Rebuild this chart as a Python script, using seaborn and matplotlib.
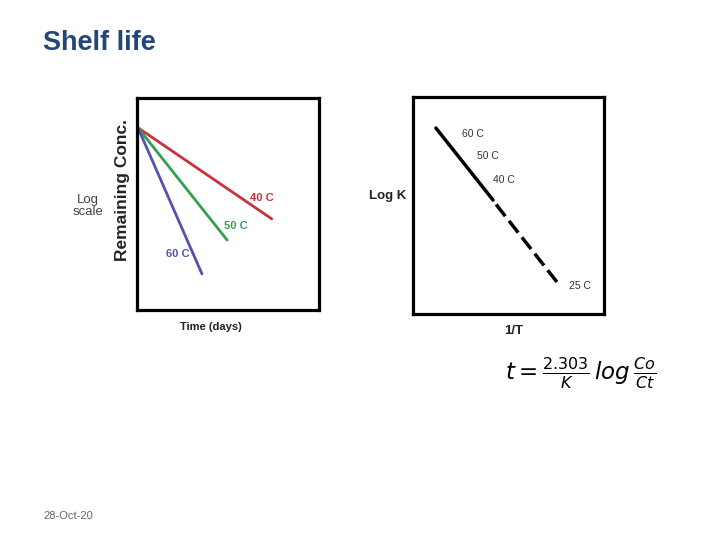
import matplotlib
matplotlib.use("Agg")
import matplotlib.pyplot as plt
import seaborn as sns
import pandas as pd

sns.set_theme(style="white")
plt.rcParams['font.family'] = ['Liberation Sans', 'DejaVu Sans']

# Left chart: log remaining concentration vs time (arbitrary units)
temps_left = ["40 C", "50 C", "60 C"]
time_start = [0.05, 0.05, 0.05]
time_end = [7.4, 4.95, 3.57]
logc_start = [8.6, 8.6, 8.6]
logc_end = [4.3, 3.3, 1.7]
left_colors = ["#C8323E", "#33A04F", "#5252B0"]
left_label_pos = [(6.2, 5.3), (4.8, 3.95), (1.6, 2.65)]

# Right chart: log K vs 1/T (arbitrary units)
invT_solid = [1.2, 4.19]
logk_solid = [8.57, 5.25]
invT_dash = [4.35, 7.54]
logk_dash = [5.05, 1.47]
right_labels = ["60 C", "50 C", "40 C", "25 C"]
right_label_pos = [(2.57, 8.3), (3.35, 7.28), (4.19, 6.17), (8.15, 1.29)]

fig = plt.figure(figsize=(7.2, 5.4), dpi=100)
W, H = 720, 540

def px_axes(x0, y0, x1, y1):
    return fig.add_axes([x0 / W, 1 - y1 / H, (x1 - x0) / W, (y1 - y0) / H])

# ---- left axes ----
axL = px_axes(137, 98, 319, 310)
for t, xs, xe, ys, ye, c in zip(temps_left, time_start, time_end, logc_start, logc_end, left_colors):
    df = pd.DataFrame({"time": [xs, xe], "logc": [ys, ye]})
    sns.lineplot(data=df, x="time", y="logc", ax=axL, color=c, linewidth=2.0)
for t, (lx, ly), c in zip(temps_left, left_label_pos, left_colors):
    axL.text(lx, ly, t, color=c, fontsize=8, fontweight="bold", ha="left", va="center")
axL.set_xlim(0, 10)
axL.set_ylim(0, 10)
axL.set_xticks([])
axL.set_yticks([])
axL.set_xlabel("")
axL.set_ylabel("")
for s in axL.spines.values():
    s.set_linewidth(2.3)
    s.set_color("black")

# ---- right axes ----
axR = px_axes(413, 97, 604, 314)
dfs = pd.DataFrame({"invT": invT_solid, "logk": logk_solid})
sns.lineplot(data=dfs, x="invT", y="logk", ax=axR, color="black", linewidth=2.5)
dfd = pd.DataFrame({"invT": invT_dash, "logk": logk_dash})
sns.lineplot(data=dfd, x="invT", y="logk", ax=axR, color="black", linewidth=2.5)
axR.lines[-1].set_dashes([4.3, 1.72])
for t, (lx, ly) in zip(right_labels, right_label_pos):
    axR.text(lx, ly, t, color="#333333", fontsize=7.5, ha="left", va="center")
axR.set_xlim(0, 10)
axR.set_ylim(0, 10)
axR.set_xticks([])
axR.set_yticks([])
axR.set_xlabel("")
axR.set_ylabel("")
for s in axR.spines.values():
    s.set_linewidth(2.3)
    s.set_color("black")

# ---- figure texts ----
fig.text(43 / W, 1 - 43 / H, "Shelf life", fontsize=19.5, fontweight="bold",
         color="#22467A", ha="left", va="center")
fig.text(122 / W, 1 - 190 / H, "Remaining Conc.", rotation=90, fontsize=12.5,
         fontweight="bold", color="#222222", ha="center", va="center")
fig.text(88 / W, 1 - 206 / H, "Log\nscale", fontsize=9.5, color="#444444",
         ha="center", va="center", linespacing=1.1)
fig.text(211 / W, 1 - 327 / H, "Time (days)", fontsize=8, fontweight="bold",
         color="#222222", ha="center", va="center")
fig.text(388 / W, 1 - 196 / H, "Log K", fontsize=9.5, fontweight="bold",
         color="#222222", ha="center", va="center")
fig.text(514 / W, 1 - 331 / H, "1/T", fontsize=9.5, fontweight="bold",
         color="#222222", ha="center", va="center")
fig.text(581 / W, 1 - 373 / H, r"$t=\frac{2.303}{K}\,log\,\frac{Co}{Ct}$",
         fontsize=16.5, color="black", ha="center", va="center")
fig.text(43 / W, 1 - 516 / H, "28-Oct-20", fontsize=8, color="#666666",
         ha="left", va="center")

fig.savefig("out.png", dpi=100)
